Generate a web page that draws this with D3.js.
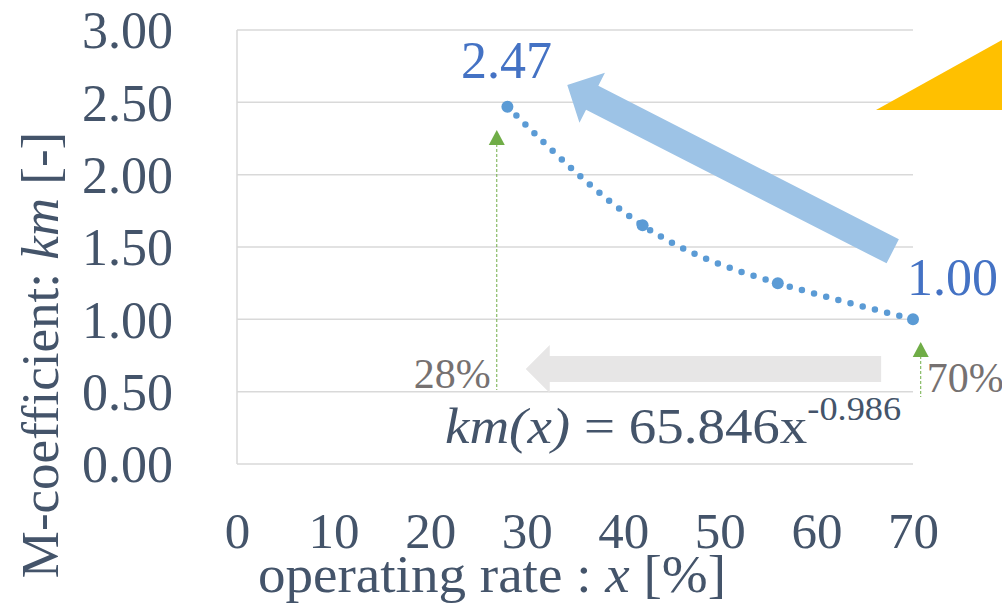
<!DOCTYPE html>
<html><head><meta charset="utf-8">
<script src="https://cdn.jsdelivr.net/npm/d3@7"></script>
<style>
html,body{margin:0;padding:0;background:#fff;}
svg{display:block;}
text{font-family:"Liberation Serif","Times New Roman",serif;}
</style></head>
<body>
<script>
// ---- data ----
const rates = [28, 42, 56, 70];            // operating rate x [%]
const kmValues = [2.47, 1.65, 1.25, 1.00];  // M-coefficient km
const xTicks = [0, 10, 20, 30, 40, 50, 60, 70];
const yTicks = [0, 0.5, 1.0, 1.5, 2.0, 2.5, 3.0];
const labelPoints = [{x: 28, y: 2.47, text: "2.47"}, {x: 70, y: 1.00, text: "1.00"}];
const rateMarks = [{x: 28, text: "28%"}, {x: 70, text: "70%"}];

const W = 1002, H = 604;
const svg = d3.select("body").append("svg").attr("width", W).attr("height", H);

const x = d3.scaleLinear().domain([0, 70]).range([237, 913]);
const y = d3.scaleLinear().domain([0, 3]).range([464, 30]);

const textCol = "#44546A", gridCol = "#D9D9D9";

// gridlines
svg.append("g").selectAll("line").data(yTicks).join("line")
  .attr("x1", x(0)).attr("x2", x(70))
  .attr("y1", d => y(d)).attr("y2", d => y(d))
  .attr("stroke", gridCol).attr("stroke-width", 1.5);
// left axis line
svg.append("line").attr("x1", x(0)).attr("x2", x(0)).attr("y1", y(3)).attr("y2", y(0))
  .attr("stroke", gridCol).attr("stroke-width", 1.5);

// y tick labels
const yAxis = d3.axisLeft(y).tickValues(yTicks).tickFormat(d3.format(".2f")).tickSize(0).tickPadding(64);
const gy = svg.append("g").attr("transform", `translate(${x(0)},0)`).call(yAxis);
gy.select(".domain").remove();
gy.selectAll("text").attr("font-family", "Liberation Serif").attr("font-size", 52).attr("fill", textCol).attr("dy", "0.34em");

// x tick labels
const xAxis = d3.axisBottom(x).tickValues(xTicks).tickFormat(d3.format("d")).tickSize(0).tickPadding(48);
const gx = svg.append("g").attr("transform", `translate(0,${y(0)})`).call(xAxis);
gx.select(".domain").remove();
gx.selectAll("text").attr("font-family", "Liberation Serif").attr("font-size", 51).attr("fill", textCol);

// axis titles
const xt = svg.append("text").attr("transform", "translate(492,592) scale(1.06,1)").attr("text-anchor", "middle")
  .attr("font-size", 52).attr("fill", textCol);
xt.append("tspan").text("operating rate : ");
xt.append("tspan").attr("font-style", "italic").text("x");
xt.append("tspan").text(" [%]");

const yt = svg.append("text").attr("transform", "translate(58,355) rotate(-90)").attr("text-anchor", "middle")
  .attr("font-size", 53).attr("fill", textCol);
yt.append("tspan").text("M-coefficient: ");
yt.append("tspan").attr("font-style", "italic").text("km");
yt.append("tspan").text(" [-]");

// orange triangle decoration
svg.append("polygon").attr("points", `876,110 ${W},40 ${W},110`).attr("fill", "#FFC000");

function arrowPoly(x0, y0, x1, y1, shaftW, headW, headL) {
  const dx = x1 - x0, dy = y1 - y0, L = Math.hypot(dx, dy);
  const ux = dx / L, uy = dy / L, nx = -uy, ny = ux;
  const bx = x1 - ux * headL, by = y1 - uy * headL;
  const p = [
    [x0 + nx * shaftW / 2, y0 + ny * shaftW / 2],
    [bx + nx * shaftW / 2, by + ny * shaftW / 2],
    [bx + nx * headW / 2, by + ny * headW / 2],
    [x1, y1],
    [bx - nx * headW / 2, by - ny * headW / 2],
    [bx - nx * shaftW / 2, by - ny * shaftW / 2],
    [x0 - nx * shaftW / 2, y0 - ny * shaftW / 2]
  ];
  return p.map(d => d.join(",")).join(" ");
}
// big blue arrow
svg.append("polygon").attr("points", arrowPoly(x(67.9), y(1.47), x(34.2), y(2.62), 27, 56, 28))
  .attr("fill", "#9DC3E6");
// gray horizontal arrow
svg.append("polygon").attr("points", arrowPoly(x(66.7), y(0.657), x(29.9), y(0.657), 26, 48, 24))
  .attr("fill", "#E7E6E6");

// green dashed indicators
const greens = [{x: 26.9, top: 130, bottom: 390}, {x: 70.8, top: 342, bottom: 397}];
greens.forEach(g => {
  const gxp = x(g.x);
  svg.append("line").attr("x1", gxp).attr("x2", gxp).attr("y1", g.top + 14).attr("y2", g.bottom)
    .attr("stroke", "#70AD47").attr("stroke-width", 1).attr("stroke-dasharray", "3,2");
  svg.append("polygon").attr("points", `${gxp},${g.top} ${gxp - 8},${g.top + 15} ${gxp + 8},${g.top + 15}`)
    .attr("fill", "#70AD47");
});

// rate labels
svg.append("text").attr("x", x(26.9) - 6).attr("y", 388).attr("text-anchor", "end")
  .attr("font-size", 42).attr("fill", "#767171").text(rateMarks[0].text);
svg.append("text").attr("x", x(70.8) + 6).attr("y", 392).attr("text-anchor", "start")
  .attr("font-size", 42).attr("fill", "#767171").text(rateMarks[1].text);

// trendline (dotted) through the points
const line = d3.line().x(d => x(d[0])).y(d => y(d[1])).curve(d3.curveNatural);
svg.append("path").datum(rates.map((r, i) => [r, kmValues[i]])).attr("d", line)
  .attr("fill", "none").attr("stroke", "#5B9BD5").attr("stroke-width", 6.5)
  .attr("stroke-linecap", "round").attr("stroke-dasharray", "0,12.6");

// markers
svg.append("g").selectAll("circle").data(rates).join("circle")
  .attr("cx", d => x(d)).attr("cy", (d, i) => y(kmValues[i])).attr("r", 6).attr("fill", "#5B9BD5");

// value labels
svg.append("text").attr("x", x(labelPoints[0].x) - 1).attr("y", y(labelPoints[0].y) - 29)
  .attr("text-anchor", "middle").attr("font-size", 52).attr("fill", "#4472C4").text(labelPoints[0].text);
svg.append("text").attr("x", x(labelPoints[1].x) - 6).attr("y", y(labelPoints[1].y) - 24)
  .attr("text-anchor", "start").attr("font-size", 52).attr("fill", "#4472C4").text(labelPoints[1].text);

// equation
const eq = svg.append("text").attr("transform", "translate(445,443) scale(1.1,1)").attr("font-size", 50).attr("fill", textCol);
eq.append("tspan").attr("font-style", "italic").text("km(x)");
eq.append("tspan").text(" = 65.846x");
eq.append("tspan").attr("font-size", 33).attr("dy", -23).text("-0.986");
</script>
</body></html>
